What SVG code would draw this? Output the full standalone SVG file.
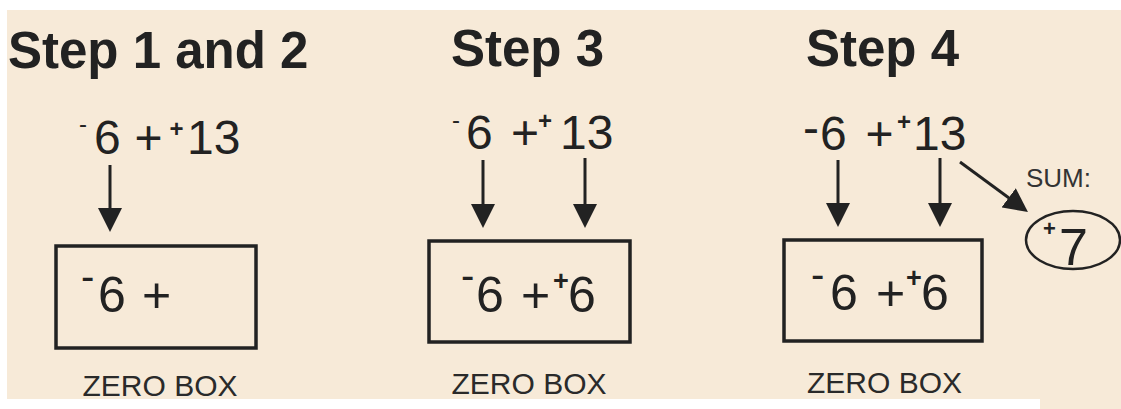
<svg xmlns="http://www.w3.org/2000/svg" width="1121" height="409" viewBox="0 0 1121 409">
<style>
  .bg{fill:#f7ead8}
  .title{font-family:"Liberation Sans",Arial,sans-serif;font-weight:bold;font-size:51px;fill:#222}
  .ex{font-family:"Liberation Sans",Arial,sans-serif;font-size:48px;fill:#222}
  .bx{font-family:"Liberation Sans",Arial,sans-serif;font-size:50px;fill:#222}
  .sup{font-family:"Liberation Sans",Arial,sans-serif;font-size:24px;fill:#222}
  .supp{font-family:"Liberation Sans",Arial,sans-serif;font-size:24px;font-weight:bold;fill:#222}
  .supb{font-family:"Liberation Sans",Arial,sans-serif;font-size:27px;font-weight:bold;fill:#222}
  .minb{font-family:"Liberation Sans",Arial,sans-serif;font-size:40px;fill:#222}
  .lbl{font-family:"Liberation Sans",Arial,sans-serif;font-size:30px;fill:#2a2a2a;text-anchor:middle}
  .sum{font-family:"Liberation Sans",Arial,sans-serif;font-size:26px;fill:#333}
  .box{fill:none;stroke:#222;stroke-width:3.5}
  .arr{stroke:#222;stroke-width:3;fill:none;marker-end:url(#ah)}
</style>
<defs>
  <marker id="ah" markerUnits="userSpaceOnUse" markerWidth="24" markerHeight="24" viewBox="0 0 24 24" refX="14" refY="12" orient="auto">
    <path d="M0,0 L24,12 L0,24 z" fill="#222"/>
  </marker>
</defs>
<rect width="1121" height="409" fill="#ffffff"/>
<rect class="bg" x="7" y="10" width="1114" height="389"/>
<rect class="bg" x="1040" y="399" width="81" height="10"/>

<g id="step12">
  <text class="title" x="8" y="68">Step 1 and 2</text>
  <text class="sup" x="79" y="131.5">-</text>
  <text class="ex" x="94" y="154">6</text>
  <text class="ex" x="134.5" y="154">+</text>
  <text class="supp" x="169.5" y="137">+</text>
  <text class="ex" x="187" y="154">13</text>
  <rect class="box" x="56" y="246" width="200" height="102"/>
  <text class="minb" x="81" y="290">-</text>
  <text class="bx" x="98" y="312">6</text>
  <text class="bx" x="142" y="312">+</text>
  <text class="lbl" x="160" y="396">ZERO BOX</text>
</g>

<g id="step3">
  <text class="title" x="451" y="66">Step 3</text>
  <text class="sup" x="452" y="128">-</text>
  <text class="ex" x="466" y="149">6</text>
  <text class="ex" x="511" y="149">+</text>
  <text class="supp" x="538" y="129">+</text>
  <text class="ex" x="560" y="149">13</text>
  <rect class="box" x="429" y="241" width="201" height="101"/>
  <text class="minb" x="461" y="289">-</text>
  <text class="bx" x="476" y="312">6</text>
  <text class="bx" x="521" y="312">+</text>
  <text class="supb" x="553" y="290">+</text>
  <text class="bx" x="568" y="312">6</text>
  <text class="lbl" x="529" y="394">ZERO BOX</text>
</g>

<g id="step4">
  <text class="title" x="806" y="66">Step 4</text>
  <text class="ex" x="803" y="144">-</text>
  <text class="ex" x="820" y="150">6</text>
  <text class="ex" x="865.5" y="150">+</text>
  <text class="supp" x="897" y="130">+</text>
  <text class="ex" x="913" y="150">13</text>
  <rect class="box" x="784" y="240" width="198" height="101"/>
  <text class="minb" x="811" y="288">-</text>
  <text class="bx" x="830" y="310">6</text>
  <text class="bx" x="876" y="310">+</text>
  <text class="supb" x="906" y="287">+</text>
  <text class="bx" x="921" y="310">6</text>
  <text class="lbl" x="884.5" y="393">ZERO BOX</text>
</g>

<g id="sum">
  <text class="sum" x="1026" y="187">SUM:</text>
  <ellipse cx="1073" cy="240" rx="47" ry="29" fill="none" stroke="#222" stroke-width="2.5"/>
  <text class="supp" x="1043" y="236" style="font-size:22px">+</text>
  <text class="bx" x="1059" y="265" style="font-size:52px">7</text>
</g>

<g id="connectors">
  <line class="arr" x1="110" y1="165" x2="110" y2="222"/>
  <line class="arr" x1="483" y1="160" x2="483" y2="218"/>
  <line class="arr" x1="585" y1="158" x2="585" y2="218"/>
  <line class="arr" x1="838" y1="160" x2="838" y2="217"/>
  <line class="arr" x1="940" y1="158" x2="940" y2="217"/>
  <line class="arr" x1="960" y1="162" x2="1019.9" y2="206.1"/>
</g>
</svg>
